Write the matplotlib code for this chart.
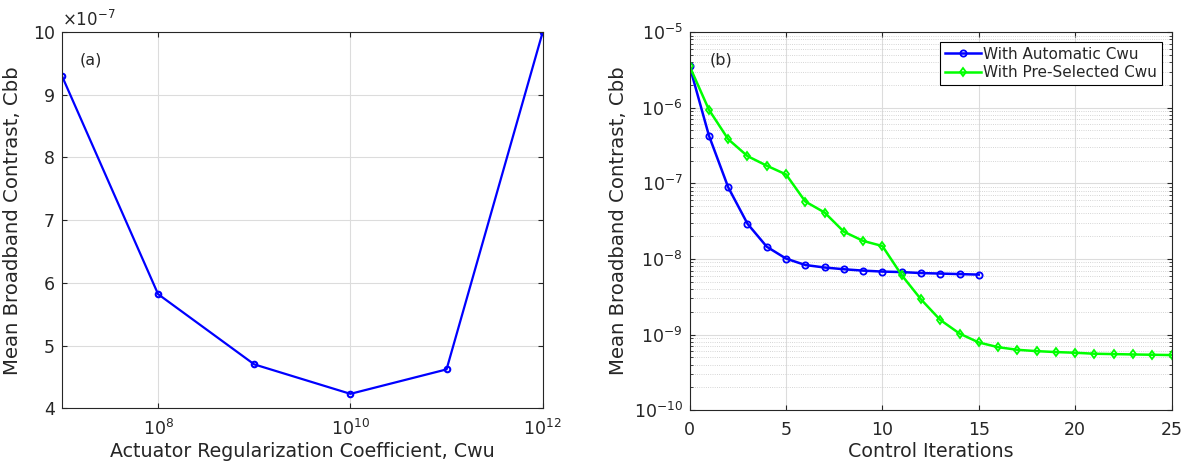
import matplotlib
matplotlib.use("Agg")
import matplotlib.pyplot as plt
import numpy as np
from matplotlib.ticker import FuncFormatter, LogLocator, NullLocator, NullFormatter

# panel (a): contrast vs regularization coefficient
cwu = [1e7, 1e8, 1e9, 1e10, 1e11, 1e12]
cbb_a = [9.30e-7, 5.82e-7, 4.70e-7, 4.23e-7, 4.62e-7, 10.0e-7]

# panel (b): contrast vs iteration
iter_auto = list(range(0, 16))
cbb_auto = [3.53e-6, 4.28e-7, 8.85e-8, 2.92e-8, 1.45e-8, 1.01e-8, 8.3e-9, 7.7e-9,
            7.3e-9, 7.0e-9, 6.8e-9, 6.7e-9, 6.5e-9, 6.4e-9, 6.3e-9, 6.2e-9]
iter_pre = list(range(0, 26))
cbb_pre = [3.53e-6, 9.4e-7, 3.83e-7, 2.29e-7, 1.71e-7, 1.31e-7, 5.74e-8, 4.11e-8,
           2.29e-8, 1.73e-8, 1.48e-8, 6.1e-9, 2.92e-9, 1.56e-9, 1.03e-9, 7.85e-10,
           6.8e-10, 6.28e-10, 6.03e-10, 5.86e-10, 5.74e-10, 5.57e-10, 5.51e-10,
           5.45e-10, 5.40e-10, 5.35e-10]

plt.rcParams['font.family'] = ['DejaVu Sans']
txt = '#262626'
plt.rcParams['text.color'] = txt
plt.rcParams['axes.labelcolor'] = txt
plt.rcParams['xtick.color'] = txt
plt.rcParams['ytick.color'] = txt
plt.rcParams['axes.edgecolor'] = txt

fig = plt.figure(figsize=(11.87, 4.65), dpi=100)
ax1 = fig.add_axes([0.0522, 0.122, 0.405, 0.809])
ax2 = fig.add_axes([0.581, 0.118, 0.406, 0.813])

# ---- (a)
ax1.plot(cwu, cbb_a, color='blue', lw=1.6, marker='o', ms=4, mfc='none', mew=1.5)
ax1.set_xscale('log')
ax1.set_xlim(1e7, 1e12)
ax1.set_ylim(4e-7, 10e-7)
ax1.set_xticks([1e8, 1e10, 1e12])
ax1.xaxis.set_minor_locator(NullLocator())
ax1.set_yticks(np.arange(4, 11) * 1e-7)
ax1.yaxis.set_major_formatter(FuncFormatter(lambda v, p: '%d' % round(v / 1e-7)))
ax1.text(0.0, 1.005, r'$\times10^{-7}$', transform=ax1.transAxes, fontsize=12,
         va='bottom', ha='left')
ax1.grid(True, which='major', color='#dcdcdc', lw=0.8)
ax1.set_xlabel('Actuator Regularization Coefficient, Cwu', fontsize=13.7, labelpad=2)
ax1.set_ylabel('Mean Broadband Contrast, Cbb', fontsize=14.2, labelpad=8)
ax1.text(0.037, 0.925, '(a)', transform=ax1.transAxes, fontsize=11.5, va='center')

# ---- (b)
ax2.plot(iter_auto, cbb_auto, color='blue', lw=1.8, marker='o', ms=4.5, mfc='none',
         mew=1.3, label='With Automatic Cwu')
ax2.plot(iter_pre, cbb_pre, color='#00ff00', lw=1.8, marker='d', ms=4.5, mfc='none',
         mew=1.3, label='With Pre-Selected Cwu')
ax2.set_yscale('log')
ax2.set_xlim(0, 25)
ax2.set_ylim(1e-10, 1e-5)
ax2.set_xticks([0, 5, 10, 15, 20, 25])
ax2.yaxis.set_major_locator(LogLocator(base=10, numticks=10))
ax2.yaxis.set_minor_locator(LogLocator(base=10, subs=np.arange(2, 10), numticks=20))
ax2.yaxis.set_minor_formatter(NullFormatter())
ax2.grid(True, which='major', color='#dcdcdc', lw=0.8)
ax2.grid(True, which='minor', axis='y', color='#c8c8c8', lw=0.6, ls=':')
ax2.set_xlabel('Control Iterations', fontsize=13.7, labelpad=2)
ax2.set_ylabel('Mean Broadband Contrast, Cbb', fontsize=14.2, labelpad=4)
ax2.text(0.041, 0.925, '(b)', transform=ax2.transAxes, fontsize=11.5, va='center')
leg = ax2.legend(loc='upper right', fontsize=11, fancybox=False, framealpha=1,
                 edgecolor='black', handlelength=2.35, borderpad=0.3, labelspacing=0.25,
                 handletextpad=0.15, borderaxespad=0.65)
leg.get_frame().set_linewidth(0.8)

for ax in (ax1, ax2):
    ax.tick_params(which='both', direction='in', top=True, right=True, labelsize=12.5)
    ax.tick_params(axis='x', pad=8)
    ax.tick_params(axis='y', pad=5)
    ax.set_axisbelow(True)
    for s in ax.spines.values():
        s.set_linewidth(0.8)

fig.savefig('out.png', dpi=100)
